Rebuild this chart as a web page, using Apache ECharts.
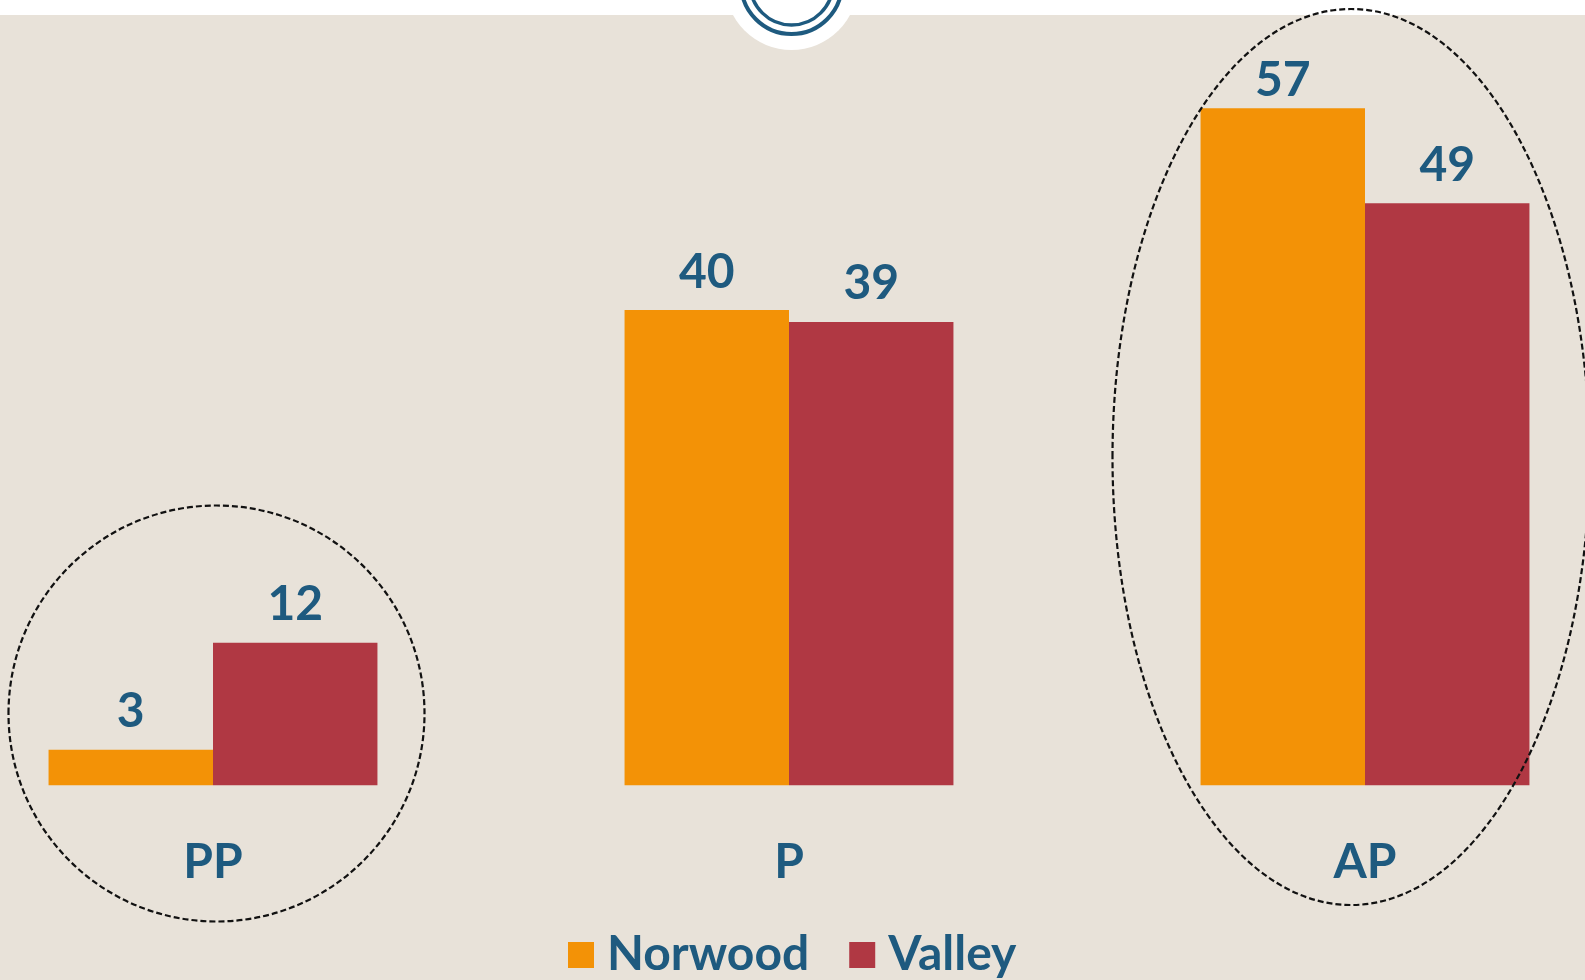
<!DOCTYPE html>
<html>
<head>
<meta charset="utf-8">
<script src="https://cdn.jsdelivr.net/npm/echarts@6/dist/echarts.min.js"></script>
<style>
html,body{margin:0;padding:0;background:#E8E2D9;overflow:hidden;width:1585px;height:980px;position:relative;}
#chart{position:absolute;left:-75px;top:0;width:1728px;height:980px;}
</style>
</head>
<body>
<div id="chart"></div>
<script>
const categories = ['PP', 'P', 'AP'];
const norwood = [3, 40, 57];
const valley = [12, 39, 49];
const seriesNames = ['Norwood', 'Valley'];

const BLUE = '#1E5A7F';
const FONT = 'Lato';
const OFFSET = 75; // chart div is shifted left by this many px

const chart = echarts.init(document.getElementById('chart'));

function labelFor(vals, special) {
  return vals.map((v, i) => {
    const item = { value: v };
    if (special && special[i] != null) item.label = { distance: special[i] };
    return item;
  });
}

const labelStyle = {
  show: true,
  position: 'top',
  distance: 14,
  color: BLUE,
  fontFamily: FONT,
  fontWeight: 'bold',
  fontSize: 48
};

chart.setOption({
  backgroundColor: '#E8E2D9',
  animation: false,
  grid: { left: 0, right: 0, top: 72.5, bottom: 194.7, containLabel: false },
  xAxis: {
    type: 'category',
    data: categories,
    axisLine: { show: false },
    axisTick: { show: false },
    axisLabel: { margin: 53, color: BLUE, fontFamily: FONT, fontWeight: 'bold', fontSize: 48 }
  },
  yAxis: {
    type: 'value', min: 0, max: 60,
    show: false,
    splitLine: { show: false }
  },
  legend: {
    data: seriesNames,
    left: 563 + OFFSET,
    top: 926,
    icon: 'rect',
    itemWidth: 26,
    itemHeight: 26,
    itemGap: 40,
    textStyle: { color: BLUE, fontFamily: FONT, fontWeight: 'bold', fontSize: 48, padding: [0, 0, 0, 8] }
  },
  series: [
    {
      name: seriesNames[0], type: 'bar', data: labelFor(norwood, [null, null, 4]),
      itemStyle: { color: '#F39206' },
      barGap: '0%', barCategoryGap: '42.9%',
      label: labelStyle
    },
    {
      name: seriesNames[1], type: 'bar', data: labelFor(valley),
      itemStyle: { color: '#B03843' },
      barGap: '0%', barCategoryGap: '42.9%',
      label: labelStyle
    }
  ],
  graphic: [{
    type: 'group',
    x: OFFSET, y: 0,
    z: 100,
    children: [
      { type: 'rect', z: 100, shape: { x: -OFFSET, y: 0, width: 1728, height: 15 }, style: { fill: '#ffffff' } },
      { type: 'circle', z: 101, shape: { cx: 791.5, cy: -16.4, r: 66.4 }, style: { fill: '#ffffff' } },
      { type: 'circle', z: 102, shape: { cx: 791.5, cy: -16.4, r: 50.4 }, style: { fill: 'none', stroke: BLUE, lineWidth: 4 } },
      { type: 'circle', z: 102, shape: { cx: 791.5, cy: -16.4, r: 41.4 }, style: { fill: 'none', stroke: BLUE, lineWidth: 3.5 } },
      { type: 'ellipse', z: 100, shape: { cx: 216.5, cy: 713.5, rx: 208, ry: 208 }, style: { fill: 'none', stroke: '#111', lineWidth: 2.2, lineDash: [6, 3] } },
      { type: 'ellipse', z: 100, shape: { cx: 1351, cy: 457, rx: 238.5, ry: 448 }, style: { fill: 'none', stroke: '#111', lineWidth: 2.2, lineDash: [6, 3] } }
    ]
  }]
});
</script>
</body>
</html>
